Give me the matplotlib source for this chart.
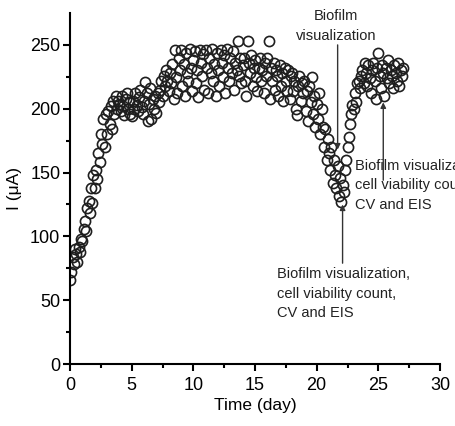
import matplotlib
matplotlib.use("Agg")
import matplotlib.pyplot as plt

# Time (day) of each reading
time_day = [
    0.0, 0.1, 0.2, 0.3, 0.4, 0.5, 0.6, 0.7, 0.8, 0.9,
    1.0, 1.1, 1.2, 1.3, 1.4, 1.5, 1.6, 1.7, 1.8, 1.9,
    2.0, 2.1, 2.2, 2.3, 2.4, 2.5, 2.6, 2.7, 2.8, 2.9,
    3.0, 3.1, 3.2, 3.3, 3.4, 3.5, 3.6, 3.7, 3.8, 3.9,
    4.0, 4.1, 4.2, 4.3, 4.4, 4.5, 4.6, 4.7, 4.8, 4.9,
    5.0, 5.1, 5.2, 5.3, 5.4, 5.5, 5.6, 5.7, 5.8, 5.9,
    6.0, 6.1, 6.2, 6.3, 6.4, 6.5, 6.6, 6.7, 6.8, 6.9,
    7.0, 7.1, 7.2, 7.3, 7.4, 7.5, 7.6, 7.7, 7.8, 7.9,
    8.0, 8.1, 8.2, 8.3, 8.4, 8.5, 8.6, 8.7, 8.8, 8.9,
    9.0, 9.1, 9.2, 9.3, 9.4, 9.5, 9.6, 9.7, 9.8, 9.9,
    10.0, 10.1, 10.2, 10.3, 10.4, 10.5, 10.6, 10.7, 10.8, 10.9,
    11.0, 11.1, 11.2, 11.3, 11.4, 11.5, 11.6, 11.7, 11.8, 11.9,
    12.0, 12.1, 12.2, 12.3, 12.4, 12.5, 12.6, 12.7, 12.8, 12.9,
    13.0, 13.1, 13.2, 13.3, 13.4, 13.5, 13.6, 13.7, 13.8, 13.9,
    14.0, 14.1, 14.2, 14.3, 14.4, 14.5, 14.6, 14.7, 14.8, 14.9,
    15.0, 15.1, 15.2, 15.3, 15.4, 15.5, 15.6, 15.7, 15.8, 15.9,
    16.0, 16.1, 16.2, 16.3, 16.4, 16.5, 16.6, 16.7, 16.8, 16.9,
    17.0, 17.1, 17.2, 17.3, 17.4, 17.5, 17.6, 17.7, 17.8, 17.9,
    18.0, 18.1, 18.2, 18.3, 18.4, 18.5, 18.6, 18.7, 18.8, 18.9,
    19.0, 19.1, 19.2, 19.3, 19.4, 19.5, 19.6, 19.7, 19.8, 19.9,
    20.0, 20.1, 20.2, 20.3, 20.4, 20.5, 20.6, 20.7, 20.8, 20.9,
    21.0, 21.1, 21.2, 21.3, 21.4, 21.5, 21.6, 21.7, 21.8, 21.9,
    22.0, 22.1, 22.2, 22.3, 22.4, 22.5, 22.6, 22.7, 22.8, 22.9,
    23.0, 23.1, 23.2, 23.3, 23.4, 23.5, 23.6, 23.7, 23.8, 23.9,
    24.0, 24.1, 24.2, 24.3, 24.4, 24.5, 24.6, 24.7, 24.8, 24.9,
    25.0, 25.1, 25.2, 25.3, 25.4, 25.5, 25.6, 25.7, 25.8, 25.9,
    26.0, 26.1, 26.2, 26.3, 26.4, 26.5, 26.6, 26.7, 26.8, 26.9,
    27.0,
]

# Current (uA)
current_ua = [
    66, 72, 84, 78, 90, 86, 80, 92, 88, 98,
    96, 106, 112, 104, 122, 128, 118, 138, 126, 148,
    138, 152, 145, 165, 158, 180, 172, 192, 170, 196,
    180, 198, 188, 202, 184, 206, 196, 210, 200, 206,
    204, 198, 210, 202, 195, 208, 212, 200, 205, 196,
    194, 206, 200, 212, 203, 198, 209, 215, 201, 196,
    206, 221, 212, 190, 204, 216, 192, 208, 200, 210,
    197, 212, 205, 215, 222, 210, 226, 218, 230, 222,
    214, 228, 220, 235, 208, 246, 225, 212, 240, 230,
    246, 218, 235, 210, 244, 228, 222, 247, 232, 214,
    238, 245, 220, 230, 209, 246, 236, 226, 243, 215,
    246, 232, 212, 240, 228, 247, 222, 235, 210, 244,
    230, 218, 246, 236, 225, 242, 212, 247, 232, 222,
    240, 228, 245, 215, 236, 230, 253, 226, 240, 220,
    234, 240, 222, 210, 253, 236, 228, 242, 218, 232,
    238, 225, 214, 232, 240, 222, 230, 212, 236, 226,
    240, 253, 208, 232, 222, 236, 215, 230, 226, 210,
    234, 218, 228, 206, 232, 222, 214, 230, 208, 226,
    228, 214, 222, 200, 195, 218, 226, 206, 220, 212,
    222, 198, 214, 190, 218, 205, 225, 196, 210, 186,
    204, 192, 212, 180, 200, 186, 170, 184, 160, 176,
    165, 152, 170, 142, 160, 148, 138, 155, 132, 146,
    127, 140, 135, 152, 160, 170, 178, 188, 196, 203,
    200, 212, 205, 220, 222, 216, 226, 230, 220, 236,
    228, 218, 234, 224, 212, 230, 236, 222, 208, 232,
    244, 226, 216, 234, 228, 210, 232, 224, 238, 220,
    230, 226, 216, 234, 228, 222, 236, 218, 230, 226,
    232,
]

x_ticks = [0, 5, 10, 15, 20, 25, 30]
y_ticks = [0, 50, 100, 150, 200, 250]

note_top = "Biofilm\nvisualization"
note_full = "Biofilm visualization,\ncell viability count,\nCV and EIS"

plt.rcParams["font.family"] = ["Liberation Sans", "DejaVu Sans"]

fig = plt.figure(figsize=(4.55, 4.26), dpi=100)
ax = fig.add_axes([0.154, 0.1455, 0.813, 0.824])

ax.plot(time_day, current_ua, linestyle="none", marker="o", markersize=7.3,
        markerfacecolor="none", markeredgecolor="#1e1e1e", markeredgewidth=1.2)

ax.set_xlim(0, 30)
ax.set_ylim(0, 275)
ax.set_xticks(x_ticks)
ax.set_yticks(y_ticks)
ax.set_xticks([2.5, 7.5, 12.5, 17.5, 22.5, 27.5], minor=True)
ax.set_yticks([25, 75, 125, 175, 225], minor=True)
ax.tick_params(which="major", direction="out", length=5, width=1.5, labelsize=13, pad=2)
ax.tick_params(which="minor", direction="out", length=3, width=1.5)
ax.tick_params(axis="x", which="major", pad=4)

for side in ["top", "right"]:
    ax.spines[side].set_visible(False)
for side in ["left", "bottom"]:
    ax.spines[side].set_linewidth(1.5)

ax.set_xlabel("Time (day)", fontsize=12.5, labelpad=3)
ax.set_ylabel("I (\u03bcA)", fontsize=12.5, labelpad=6)

arrow = dict(arrowstyle="-|>", color="#333333", lw=1.0, mutation_scale=8,
             shrinkA=0, shrinkB=0)

# first visualization, arrow pointing down
ax.text(21.6, 265, note_top, ha="center", va="center", fontsize=10.5,
        linespacing=1.5, color="#222222")
ax.annotate("", xy=(21.7, 168), xytext=(21.7, 250), arrowprops=arrow)

# second sampling, around day 25
ax.annotate("", xy=(25.4, 205), xytext=(25.4, 144), arrowprops=arrow)
ax.text(23.1, 140, note_full, ha="left", va="center", fontsize=10.5,
        linespacing=1.5, color="#222222", clip_on=False)

# sampling at the minimum, day 22
ax.annotate("", xy=(22.1, 125), xytext=(22.1, 79), arrowprops=arrow)
ax.text(16.8, 55, note_full, ha="left", va="center", fontsize=10.5,
        linespacing=1.5, color="#222222")

fig.savefig("out.png", dpi=100)
